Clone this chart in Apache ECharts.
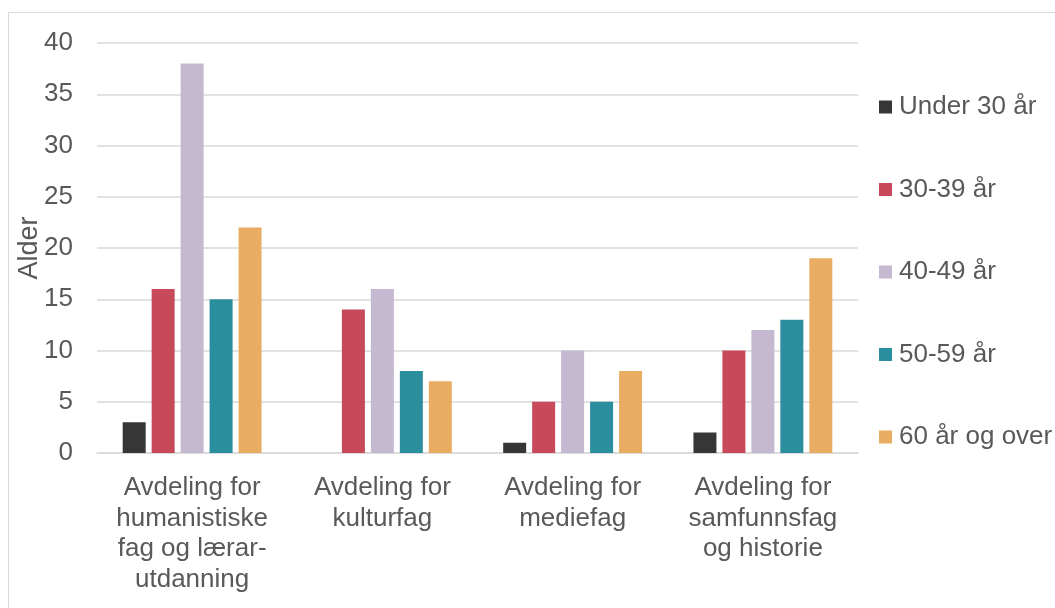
<!DOCTYPE html>
<html><head><meta charset="utf-8">
<script src="https://cdn.jsdelivr.net/npm/echarts@6/dist/echarts.min.js"></script>
<style>html,body{margin:0;padding:0;background:#fff}#c{width:1055px;height:608px}</style>
</head><body><div id="c"></div>
<script>
const categories = ['Avdeling for\nhumanistiske\nfag og lærar-\nutdanning','Avdeling for\nkulturfag','Avdeling for\nmediefag','Avdeling for\nsamfunnsfag\nog historie'];
const seriesNames = ['Under 30 år','30-39 år','40-49 år','50-59 år','60 år og over'];
const under30 = [3, 0, 1, 2];
const a30_39 = [16, 14, 5, 10];
const a40_49 = [38, 16, 10, 12];
const a50_59 = [15, 8, 5, 13];
const a60plus = [22, 7, 8, 19];
const colors = ['#363636','#C8495A','#C5B8D1','#2B8E9E','#E8AD62'];
const yTicks = {min:0, max:40, interval:5};
const values = [under30, a30_39, a40_49, a50_59, a60plus];
const font = 'Liberation Sans, Arial, sans-serif';
const chart = echarts.init(document.getElementById('c'));
chart.setOption({
  animation:false,
  textStyle:{fontFamily:font},
  graphic:[{type:'rect',shape:{x:8.5,y:12.5,width:1100,height:700},style:{fill:'none',stroke:'#d9d9d9',lineWidth:1},silent:true}],
  grid:{left:97,right:1055-858,top:43,bottom:608-453,containLabel:false},
  legend:{orient:'vertical',left:879,top:94,padding:0,itemWidth:13,itemHeight:13,itemGap:56.5,icon:'rect',
    textStyle:{color:'#595959',fontSize:26,fontFamily:font,padding:[0,0,0,2]},data:seriesNames},
  xAxis:{type:'category',data:categories,axisTick:{show:false},
    axisLine:{lineStyle:{color:'#d9d9d9',width:1.5}},
    axisLabel:{color:'#595959',fontSize:26,lineHeight:30.5,margin:20,interval:0,fontFamily:font}},
  yAxis:{type:'value',min:yTicks.min,max:yTicks.max,interval:yTicks.interval,
    name:'Alder',nameLocation:'middle',nameRotate:90,nameGap:54,nameMoveOverlap:false,
    nameTextStyle:{color:'#595959',fontSize:27,fontFamily:font},
    axisLabel:{color:'#595959',fontSize:26,margin:24,fontFamily:font},
    splitLine:{lineStyle:{color:'#d9d9d9',width:1.5}},axisLine:{show:false},axisTick:{show:false}},
  series: seriesNames.map((n,i)=>({name:n,type:'bar',data:values[i],itemStyle:{color:colors[i]},
    barGap:'26%',barCategoryGap:'27%'}))
});
</script></body></html>
